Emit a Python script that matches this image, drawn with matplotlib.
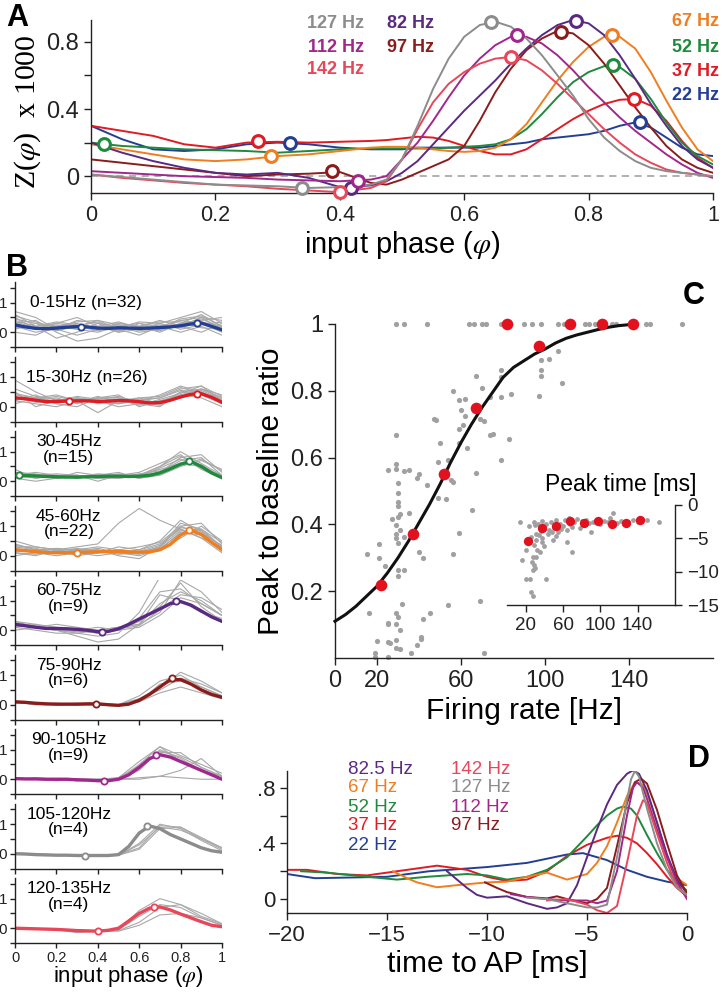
import numpy as np
import matplotlib.pyplot as plt
from matplotlib.ticker import FixedLocator

plt.rcParams['font.family'] = ['Liberation Sans', 'DejaVu Sans']
plt.rcParams['mathtext.fontset'] = 'stix'
plt.rcParams['axes.linewidth'] = 1.0
plt.rcParams['axes.edgecolor'] = '#222222'

W, H = 722, 992

# colours per frequency
C22, C37, C52, C67 = '#233f95', '#e01b24', '#1f8a3c', '#f07d1e'
C82, C97, C112, C127, C142 = '#5a2a82', '#8b1c1c', '#a0288c', '#8c8c8c', '#e8475a'

# ---------------- panel A data: Z(phase) x 1000 ----------------
phase = [0, .05, .1, .15, .2, .25, .3, .35, .4, .45, .475, .5, .525, .55, .575, .6,
         .625, .65, .675, .7, .725, .75, .775, .8, .825, .85, .875, .9, .925, .95, .975, 1.0]
z22 = [0.3, 0.22, 0.16, 0.15, 0.16, 0.19, 0.2, 0.19, 0.17, 0.16, 0.16, 0.16, 0.17, 0.17, 0.17, 0.17,
       0.17, 0.18, 0.19, 0.2, 0.22, 0.23, 0.24, 0.25, 0.27, 0.3, 0.32, 0.29, 0.23, 0.17, 0.13, 0.12]
z37 = [0.3, 0.27, 0.24, 0.19, 0.17, 0.2, 0.205, 0.2, 0.205, 0.21, 0.215, 0.225, 0.235, 0.23, 0.21, 0.18,
       0.15, 0.13, 0.13, 0.16, 0.22, 0.28, 0.34, 0.39, 0.43, 0.455, 0.46, 0.42, 0.33, 0.21, 0.11, 0.05]
z52 = [0.2, 0.18, 0.17, 0.16, 0.155, 0.15, 0.14, 0.15, 0.16, 0.165, 0.165, 0.165, 0.165, 0.165, 0.17, 0.175,
       0.18, 0.19, 0.22, 0.28, 0.37, 0.47, 0.56, 0.62, 0.655, 0.65, 0.58, 0.46, 0.32, 0.2, 0.12, 0.07]
z67 = [0.19, 0.16, 0.13, 0.1, 0.09, 0.1, 0.12, 0.13, 0.15, 0.17, 0.175, 0.175, 0.17, 0.16, 0.15, 0.145,
       0.15, 0.17, 0.22, 0.31, 0.44, 0.57, 0.68, 0.77, 0.83, 0.83, 0.76, 0.62, 0.45, 0.29, 0.16, 0.09]
z82 = [0.2, 0.14, 0.09, 0.05, 0.02, 0.01, 0.02, -0.01, -0.065, -0.055, -0.03, 0.02, 0.09, 0.19, 0.29, 0.39,
       0.48, 0.57, 0.67, 0.76, 0.84, 0.9, 0.93, 0.91, 0.84, 0.72, 0.58, 0.43, 0.3, 0.18, 0.1, 0.05]
z97 = [0.1, 0.08, 0.06, 0.04, 0.02, 0.0, 0.01, 0.015, 0.025, -0.04, -0.05, -0.02, 0.02, 0.06, 0.1, 0.18,
       0.33, 0.5, 0.64, 0.75, 0.82, 0.865, 0.85, 0.78, 0.67, 0.54, 0.41, 0.29, 0.18, 0.1, 0.05, 0.02]
z112 = [0.03, 0.02, 0.01, 0.0, -0.005, -0.01, -0.02, -0.025, -0.03, -0.02, 0.0, 0.1, 0.2, 0.33, 0.47, 0.6,
        0.7, 0.78, 0.83, 0.83, 0.79, 0.72, 0.63, 0.53, 0.44, 0.35, 0.27, 0.2, 0.13, 0.07, 0.02, -0.01]
z127 = [0.01, -0.005, -0.02, -0.035, -0.05, -0.055, -0.06, -0.07, -0.065, -0.05, -0.02, 0.1, 0.3, 0.52, 0.7, 0.83,
        0.9, 0.92, 0.89, 0.82, 0.72, 0.6, 0.48, 0.34, 0.23, 0.15, 0.09, 0.05, 0.03, 0.02, 0.01, 0.0]
z142 = [0.01, -0.01, -0.025, -0.04, -0.05, -0.06, -0.075, -0.085, -0.095, -0.07, -0.03, 0.1, 0.28, 0.44, 0.55, 0.62,
        0.67, 0.7, 0.71, 0.69, 0.63, 0.55, 0.46, 0.37, 0.28, 0.2, 0.13, 0.08, 0.04, 0.02, 0.01, 0.0]
# (min phase, min z, peak phase, peak z)
marks22 = (0.32, 0.20, 0.883, 0.32)
marks37 = (0.268, 0.21, 0.873, 0.46)
marks52 = (0.021, 0.19, 0.84, 0.66)
marks67 = (0.29, 0.12, 0.838, 0.84)
marks82 = (0.418, -0.07, 0.78, 0.925)
marks97 = (0.388, 0.03, 0.755, 0.86)
marks112 = (0.43, -0.03, 0.685, 0.84)
marks127 = (0.34, -0.07, 0.643, 0.92)
marks142 = (0.40, -0.095, 0.675, 0.71)

# ---------------- panel B data ----------------
phase_b = [0, .05, .1, .15, .2, .25, .3, .35, .4, .45, .5, .55, .6, .65, .7, .75, .8, .85, .9, .95, 1.0]
phase_g = [0, .1, .2, .3, .4, .5, .6, .7, .8, .9, 1.0]
bin_labels = ['0-15Hz (n=32)', '15-30Hz (n=26)', '30-45Hz\n(n=15)', '45-60Hz\n(n=22)', '60-75Hz\n(n=9)',
              '75-90Hz\n(n=6)', '90-105Hz\n(n=9)', '105-120Hz\n(n=4)', '120-135Hz\n(n=4)']
bin_colors = [C22, C37, C52, C67, C82, C97, C112, C127, C142]
mean_b = [
    [0.25, 0.18, 0.13, 0.12, 0.14, 0.17, 0.19, 0.18, 0.14, 0.13, 0.15, 0.14, 0.13, 0.14, 0.16, 0.18, 0.22, 0.28, 0.31, 0.2, 0.08],
    [0.3, 0.27, 0.22, 0.17, 0.18, 0.19, 0.2, 0.2, 0.18, 0.19, 0.21, 0.2, 0.17, 0.13, 0.14, 0.22, 0.33, 0.42, 0.44, 0.32, 0.15],
    [0.2, 0.19, 0.18, 0.16, 0.15, 0.14, 0.14, 0.15, 0.16, 0.17, 0.17, 0.16, 0.17, 0.2, 0.28, 0.42, 0.58, 0.67, 0.5, 0.28, 0.12],
    [0.2, 0.17, 0.14, 0.11, 0.1, 0.1, 0.1, 0.12, 0.13, 0.14, 0.14, 0.13, 0.12, 0.13, 0.2, 0.38, 0.7, 0.87, 0.72, 0.45, 0.2],
    [0.2, 0.15, 0.1, 0.06, 0.06, 0.05, 0.03, 0.0, -0.05, -0.04, 0.05, 0.2, 0.38, 0.55, 0.72, 0.9, 0.97, 0.85, 0.65, 0.45, 0.3],
    [0.1, 0.08, 0.05, 0.03, 0.02, 0.02, 0.02, 0.03, 0.03, 0.0, -0.02, 0.02, 0.15, 0.35, 0.6, 0.85, 0.85, 0.7, 0.5, 0.35, 0.25],
    [0.02, 0.01, 0.01, 0.0, 0.0, 0.0, -0.02, -0.03, -0.05, -0.05, 0.0, 0.15, 0.4, 0.7, 0.83, 0.75, 0.6, 0.45, 0.3, 0.15, 0.0],
    [0.0, -0.01, -0.03, -0.04, -0.05, -0.05, -0.06, -0.06, -0.06, -0.06, -0.03, 0.25, 0.7, 0.94, 0.85, 0.65, 0.5, 0.35, 0.2, 0.1, 0.05],
    [0.0, -0.01, -0.02, -0.03, -0.04, -0.06, -0.08, -0.09, -0.1, -0.07, 0.0, 0.25, 0.5, 0.68, 0.72, 0.62, 0.48, 0.35, 0.22, 0.1, 0.05],
]
marks_b = [(0.32, 0.19, 0.88, 0.31), (0.26, 0.19, 0.88, 0.44), (0.02, 0.2, 0.84, 0.67),
           (0.3, 0.1, 0.84, 0.88), (0.42, -0.06, 0.78, 0.98), (0.39, 0.03, 0.76, 0.89),
           (0.43, -0.06, 0.68, 0.83), (0.34, -0.06, 0.64, 0.94), (0.4, -0.1, 0.67, 0.72)]
cells_b = [
    [[0.7, 0.5, 0.1, -0.1, 0.1, 0.3, 0.2, 0.1, 0.3, 0.6, 0.2],
     [0.4, 0.2, 0.3, 0.5, 0.2, 0.0, 0.1, 0.3, 0.5, 0.7, 0.3],
     [0.0, -0.1, 0.2, 0.1, 0.0, 0.2, 0.3, 0.2, 0.0, 0.2, -0.1],
     [0.3, 0.4, 0.0, -0.3, -0.2, 0.1, 0.2, 0.0, 0.3, 0.4, 0.5],
     [0.5, 0.1, 0.3, 0.2, 0.4, 0.1, -0.1, 0.2, 0.4, 0.3, 0.0],
     [0.1, 0.3, 0.2, 0.3, 0.1, 0.3, 0.2, 0.4, 0.2, 0.5, 0.4],
     [0.6, 0.2, -0.2, 0.0, 0.3, 0.2, 0.0, 0.1, 0.4, 0.5, 0.1],
     [0.2, 0.0, 0.1, 0.4, 0.3, 0.0, 0.3, 0.1, 0.2, 0.0, 0.3],
     [0.35, 0.15, 0.25, 0.1, 0.2, 0.35, 0.15, 0.25, 0.15, 0.35, 0.2],
     [0.45, 0.3, 0.05, 0.2, 0.35, 0.05, 0.2, 0.35, 0.35, 0.15, 0.1],
     [0.15, 0.2, 0.35, 0.25, 0.15, 0.25, 0.05, 0.15, 0.45, 0.55, 0.2],
     [0.55, 0.35, 0.15, 0.2, 0.05, 0.15, 0.35, 0.3, 0.1, 0.25, 0.35],
     [0.25, 0.1, 0.2, 0.35, 0.4, 0.25, 0.1, 0.05, 0.25, 0.45, 0.15]],
    [[0.9, 0.5, 0.2, 0.3, 0.2, 0.0, 0.1, 0.2, 0.4, 0.6, 0.3],
     [0.4, 0.3, 0.4, 0.2, 0.3, 0.3, 0.2, 0.3, 0.6, 0.7, 0.2],
     [0.2, 0.1, 0.0, 0.2, -0.2, 0.2, 0.1, 0.0, 0.5, 0.4, 0.1],
     [0.3, 0.2, 0.3, 0.1, 0.3, 0.4, 0.0, 0.2, 0.3, 0.6, 0.4],
     [0.1, 0.3, 0.1, 0.3, 0.1, 0.2, 0.3, 0.1, 0.4, 0.3, 0.0],
     [0.5, 0.0, 0.2, 0.3, 0.2, 0.1, 0.2, 0.4, 0.7, 0.5, 0.2],
     [0.2, 0.4, 0.1, 0.0, 0.3, 0.3, 0.1, 0.1, 0.5, 0.6, 0.3],
     [0.6, 0.35, 0.25, 0.15, 0.35, 0.15, 0.25, 0.3, 0.55, 0.5, 0.15],
     [0.35, 0.15, 0.2, 0.35, 0.25, 0.35, 0.15, 0.05, 0.35, 0.55, 0.25],
     [0.25, 0.25, 0.35, 0.2, 0.15, 0.1, 0.3, 0.35, 0.65, 0.45, 0.1],
     [0.45, 0.3, 0.15, 0.25, 0.2, 0.25, 0.05, 0.25, 0.45, 0.7, 0.35]],
    [[0.3, 0.2, 0.1, 0.2, 0.1, 0.2, 0.2, 0.5, 1.0, 0.6, 0.2],
     [0.2, 0.1, 0.2, 0.1, 0.2, 0.2, 0.1, 0.3, 0.8, 0.9, 0.3],
     [0.1, 0.2, 0.1, 0.3, 0.2, 0.1, 0.2, 0.4, 0.6, 0.5, 0.1],
     [0.4, 0.1, 0.2, 0.2, 0.0, 0.2, 0.3, 0.6, 0.9, 0.4, 0.1],
     [0.2, 0.3, 0.2, 0.1, 0.2, 0.3, 0.1, 0.2, 0.5, 0.7, 0.4],
     [0.1, 0.0, 0.1, 0.2, 0.1, 0.1, 0.2, 0.3, 0.7, 0.8, 0.2],
     [0.25, 0.15, 0.15, 0.15, 0.15, 0.25, 0.15, 0.45, 0.75, 0.55, 0.15],
     [0.15, 0.2, 0.25, 0.2, 0.1, 0.15, 0.25, 0.35, 0.55, 0.75, 0.35],
     [0.3, 0.25, 0.1, 0.15, 0.25, 0.2, 0.2, 0.5, 0.85, 0.45, 0.2]],
    [[0.5, 0.3, 0.2, 0.3, 0.4, 1.1, 1.6, 1.2, 0.9, 0.6, 0.3],
     [0.3, 0.2, 0.1, 0.2, 0.1, 0.2, 0.1, 0.3, 1.0, 1.1, 0.4],
     [0.1, 0.0, 0.2, 0.1, 0.2, 0.1, 0.0, 0.2, 0.8, 0.7, 0.2],
     [0.4, 0.2, 0.2, 0.0, 0.1, 0.3, 0.2, 0.5, 1.2, 0.8, 0.3],
     [0.2, 0.1, 0.1, 0.2, 0.3, 0.2, 0.1, 0.2, 0.6, 1.0, 0.5],
     [0.0, 0.1, 0.0, 0.1, 0.0, 0.1, 0.2, 0.4, 0.9, 0.6, 0.1],
     [0.3, 0.3, 0.2, 0.2, 0.2, 0.0, -0.1, 0.3, 1.1, 0.9, 0.3],
     [0.25, 0.15, 0.15, 0.1, 0.15, 0.15, 0.15, 0.35, 0.95, 0.85, 0.3],
     [0.35, 0.25, 0.1, 0.15, 0.25, 0.1, 0.05, 0.25, 0.75, 0.9, 0.45],
     [0.15, 0.2, 0.25, 0.2, 0.1, 0.2, 0.3, 0.45, 1.0, 0.7, 0.25],
     [0.1, 0.05, 0.15, 0.25, 0.15, 0.05, 0.1, 0.3, 0.85, 0.75, 0.35]],
    [[0.3, 0.1, 0.0, -0.1, -0.2, -0.1, 0.6, 1.8, 2.5, 2.5, 2.5],
     [0.1, 0.2, 0.1, 0.0, -0.1, 0.0, 0.3, 0.8, 1.6, 0.8, 0.3],
     [0.2, 0.1, 0.0, -0.2, -0.4, -0.3, 0.2, 0.9, 1.3, 1.0, 0.5],
     [0.0, 0.1, 0.2, 0.1, 0.0, 0.1, 0.2, 1.2, 1.0, 0.6, 0.4],
     [0.3, 0.2, 0.0, 0.0, 0.1, 0.0, 0.1, 0.5, 1.1, 0.9, 0.5],
     [0.1, 0.0, -0.1, -0.1, 0.0, 0.1, 0.2, 0.6, 1.7, 1.3, 0.6],
     [0.25, 0.15, 0.05, 0.0, -0.1, 0.0, 0.4, 1.3, 1.4, 0.9, 0.5],
     [0.15, 0.1, 0.0, -0.05, -0.05, 0.05, 0.15, 0.7, 1.2, 1.1, 0.7]],
    [[0.1, 0.05, 0.0, 0.0, 0.0, 0.0, 0.2, 0.6, 1.1, 0.8, 0.4],
     [0.1, 0.0, 0.0, 0.05, 0.0, -0.05, 0.1, 0.7, 0.8, 0.6, 0.3],
     [0.05, 0.05, 0.0, 0.0, 0.05, 0.0, 0.3, 0.8, 1.0, 0.6, 0.3],
     [0.1, 0.0, 0.05, 0.0, 0.0, 0.0, 0.1, 0.4, 0.6, 0.4, 0.2],
     [0.1, 0.05, 0.0, 0.0, 0.0, 0.0, 0.2, 0.5, 0.9, 0.7, 0.4]],
    [[0.0, 0.0, 0.0, 0.0, -0.05, 0.0, 0.5, 1.1, 0.8, 0.5, 0.2],
     [0.05, 0.0, 0.0, -0.05, -0.05, 0.0, 0.4, 0.9, 0.9, 0.4, 0.1],
     [0.0, 0.0, -0.05, 0.0, 0.0, 0.0, 0.0, 0.1, 0.3, 0.7, 0.1],
     [0.0, 0.05, 0.0, 0.0, -0.05, 0.0, 0.3, 1.0, 0.7, 0.3, 0.0],
     [0.0, 0.0, 0.0, -0.05, 0.0, 0.0, 0.05, 0.1, 0.05, 0.0, 0.0],
     [0.05, 0.0, 0.0, 0.0, 0.0, 0.05, 0.6, 1.1, 0.6, 0.3, 0.1],
     [0.0, 0.0, 0.0, 0.0, -0.05, 0.05, 0.45, 0.95, 0.75, 0.4, 0.1]],
    [[0.0, -0.02, -0.05, -0.05, -0.06, -0.05, 0.3, 0.9, 0.8, 0.5, 0.15],
     [0.0, -0.03, -0.04, -0.06, -0.07, -0.04, 0.2, 0.95, 0.9, 0.55, 0.2],
     [0.02, -0.01, -0.03, -0.05, -0.06, -0.06, 0.35, 1.0, 0.85, 0.45, 0.1],
     [0.0, -0.02, -0.04, -0.05, -0.05, -0.05, 0.15, 0.85, 0.9, 0.5, 0.2]],
    [[0.0, -0.02, -0.05, -0.1, -0.1, -0.05, 0.6, 1.0, 0.8, 0.4, 0.15],
     [0.0, -0.01, -0.05, -0.15, -0.1, -0.05, 0.4, 0.8, 0.7, 0.35, 0.1],
     [0.0, -0.02, -0.05, -0.08, -0.1, -0.1, 0.1, 0.45, 0.5, 0.35, 0.1],
     [0.0, -0.01, -0.03, -0.05, -0.1, -0.08, 0.2, 0.7, 0.8, 0.5, 0.15]],
]

# ---------------- panel C data ----------------
rate_top = [29, 33, 44, 64, 66, 70, 72, 79, 90, 94, 98, 106, 109, 110, 119, 121, 124, 132, 134, 148, 150, 165]
rate_cells = [106, 102, 98, 98, 98, 108, 97, 79, 79, 67, 70, 84, 79, 74, 56, 59, 62, 47, 48, 60, 62, 69, 71, 61, 59,
              74, 75, 83, 50, 59, 63, 49, 79, 54, 29, 29, 29, 33, 35, 25, 40, 39, 30, 55, 56, 67, 44, 30, 30, 30,
              31, 30, 35, 27, 29, 31, 49, 53, 65, 59, 29, 29, 33, 30, 40, 42, 21, 15, 21, 24, 56, 30, 33, 30,
              16, 32, 54, 69, 29, 30, 25, 25, 29, 31, 42, 45, 41, 41, 39, 20, 25, 26, 29, 31, 36, 19, 19, 25, 71, 29]
ratio_cells = [0.918, 0.895, 0.891, 0.863, 0.845, 0.823, 0.785, 0.861, 0.841, 0.843, 0.808, 0.79, 0.781, 0.78, 0.8,
               0.773, 0.775, 0.715, 0.714, 0.743, 0.726, 0.715, 0.711, 0.698, 0.685, 0.669, 0.671, 0.655, 0.643,
               0.643, 0.628, 0.588, 0.593, 0.593, 0.668, 0.581, 0.567, 0.559, 0.563, 0.563, 0.55, 0.538, 0.524,
               0.532, 0.527, 0.555, 0.518, 0.493, 0.468, 0.455, 0.432, 0.422, 0.434, 0.415, 0.398, 0.384, 0.48,
               0.476, 0.443, 0.375, 0.37, 0.36, 0.363, 0.343, 0.318, 0.3, 0.34, 0.31, 0.3, 0.275, 0.312, 0.262,
               0.263, 0.246, 0.134, 0.163, 0.158, 0.17, 0.136, 0.124, 0.106, 0.101, 0.101, 0.083, 0.116, 0.134,
               0.064, 0.056, 0.039, 0.051, 0.047, 0.044, 0.031, 0.027, 0.014, 0.014, 0.004, 0.004, 0.014, 0.053]
rate_mean = [22, 37, 52, 67, 82, 97, 112, 127, 142]
ratio_mean = [0.22, 0.37, 0.55, 0.75, 1.0, 0.935, 1.0, 1.0, 1.0]
fit_rate = [0, 5, 10, 15, 20, 25, 30, 35, 40, 45, 50, 55, 60, 65, 70, 75, 80, 85, 90, 95, 100, 105, 110, 115,
            120, 125, 130, 135, 140]
fit_ratio = [0.11, 0.13, 0.155, 0.185, 0.215, 0.255, 0.3, 0.35, 0.405, 0.46, 0.52, 0.585, 0.645, 0.7, 0.75, 0.795,
             0.84, 0.87, 0.89, 0.91, 0.925, 0.943, 0.957, 0.967, 0.975, 0.983, 0.99, 0.995, 0.998]

# inset: peak time [ms]
pt_rate = [14, 163, 114, 70, 64, 49, 42, 20, 25, 16, 26, 28, 29, 30, 28, 28, 31, 20, 29, 31, 26, 31, 29, 24, 37, 38,
           40, 30, 33, 35, 38, 40, 42, 45, 47, 50, 52, 55, 57, 60, 62, 64, 66, 68, 70, 72, 75, 78, 80, 82, 85, 88,
           90, 92, 95, 100, 104, 108, 110, 115, 118, 122, 125, 130, 135, 140, 145, 150, 34, 36, 44, 48, 53, 58,
           27, 32, 35]
pt_time = [-2.5, -2.5, -1.25, -7, -5.5, -5.3, -11.1, -11.1, -11.1, -8.2, -13, -13.6, -9, -9.5, -9.8, -7.8, -7.8,
           -6.8, -6, -5.3, -4.8, -4.3, -2.5, -3.2, -5, -5.5, -6.1, -3.0, -2.8, -3.3, -2.4, -3.6, -2.9, -3.8, -2.6,
           -3.4, -2.2, -4.0, -2.8, -3.1, -2.3, -3.7, -2.0, -2.9, -3.3, -2.5, -2.1, -3.5, -2.4, -3.0, -2.2, -2.7,
           -4.0, -2.5, -2.2, -2.9, -2.4, -2.6, -2.0, -3.0, -2.7, -2.4, -2.9, -2.5, -2.2, -2.6, -2.1, -2.3, -4.5,
           -3.9, -4.4, -4.0, -4.6, -3.6, -8.5, -6.8, -7.0]
pt_mean = [-5.35, -3.5, -3.15, -2.45, -2.65, -2.45, -2.8, -2.75, -2.3]

# ---------------- panel D data: time to AP ----------------
t22 = [-20, -18.6, -15, -12.9, -10, -8, -6, -5.2, -4, -3, -2, -1, 0]
d22 = [0.18, 0.15, 0.16, 0.2, 0.23, 0.26, 0.32, 0.33, 0.28, 0.21, 0.16, 0.125, 0.1]
t37 = [-20, -19, -17.5, -16, -15, -14, -13, -12.5, -12, -11, -10, -9, -8, -7, -6, -5, -4, -3.5, -3, -2.5,
       -2, -1.5, -1, -0.5, 0]
d37 = [0.21, 0.21, 0.18, 0.17, 0.19, 0.21, 0.23, 0.24, 0.23, 0.21, 0.16, 0.13, 0.14, 0.2, 0.31, 0.39, 0.44,
       0.455, 0.44, 0.4, 0.33, 0.25, 0.16, 0.08, 0.02]
t52 = [-19.3, -18, -16, -14.5, -13, -11, -10, -9, -8, -7, -6, -5, -4.5, -4, -3.5, -3.2, -2.8, -2.5, -2, -1.5,
       -1, -0.5, 0]
d52 = [0.2, 0.19, 0.16, 0.14, 0.16, 0.18, 0.17, 0.14, 0.16, 0.21, 0.3, 0.45, 0.53, 0.6, 0.65, 0.665, 0.65, 0.6,
       0.46, 0.33, 0.21, 0.12, 0.06]
t67 = [-14.7, -14, -13.5, -12.5, -11.5, -10, -9, -8, -7, -6, -5, -4.5, -4, -3.5, -3, -2.6, -2.2, -2, -1.5, -1,
       -0.5, 0]
d67 = [0.2, 0.15, 0.12, 0.085, 0.1, 0.12, 0.125, 0.16, 0.19, 0.14, 0.18, 0.26, 0.38, 0.55, 0.74, 0.84, 0.82,
       0.76, 0.55, 0.3, 0.15, 0.1]
t82 = [-12, -11.5, -11, -10.5, -10, -9, -8, -7, -6.5, -6, -5.5, -5, -4.5, -4, -3.5, -3, -2.7, -2.4, -2, -1.5,
       -1, -0.5, 0]
d82 = [0.2, 0.14, 0.08, 0.03, 0.01, 0.02, -0.03, -0.07, -0.06, -0.03, 0.1, 0.3, 0.5, 0.68, 0.82, 0.9, 0.925,
       0.9, 0.78, 0.55, 0.32, 0.14, 0.04]
t97 = [-10.1, -9.5, -9, -8, -7, -6.5, -6, -5, -4.5, -4, -3.5, -3, -2.6, -2.3, -2, -1.5, -1, -0.5, 0]
d97 = [0.12, 0.08, 0.05, 0.015, 0.005, 0.02, 0.0, -0.03, 0.0, 0.08, 0.38, 0.69, 0.84, 0.865, 0.83, 0.64, 0.4,
       0.17, 0.04]
t112 = [-8.8, -8, -7, -6, -5, -4.5, -4, -3.5, -3, -2.7, -2.5, -2.2, -2, -1.5, -1, -0.5, 0]
d112 = [0.035, 0.015, 0.0, -0.01, -0.01, -0.03, -0.01, 0.2, 0.6, 0.8, 0.84, 0.8, 0.72, 0.5, 0.3, 0.12, 0.0]
t127 = [-8, -7, -6, -5, -4.5, -4, -3.5, -3, -2.8, -2.6, -2.4, -2, -1.5, -1, -0.5, 0]
d127 = [0.01, 0.0, -0.03, -0.06, -0.06, -0.04, 0.3, 0.71, 0.86, 0.92, 0.88, 0.65, 0.4, 0.21, 0.08, 0.03]
t142 = [-7, -6, -5, -4.5, -4, -3.5, -3, -2.5, -2.2, -2, -1.5, -1, -0.5, 0]
d142 = [-0.01, 0.0, -0.04, -0.08, -0.1, -0.05, 0.26, 0.6, 0.71, 0.69, 0.47, 0.26, 0.09, 0.03]


def box(l, t, r, b):
    return [l / W, 1 - b / H, (r - l) / W, (b - t) / H]


def fig_xy(x, y):
    return x / W, 1 - y / H


def clean(ax):
    ax.spines['top'].set_visible(False)
    ax.spines['right'].set_visible(False)
    ax.tick_params(direction='out', width=1, colors='#222222')


fig = plt.figure(figsize=(W / 100, H / 100), dpi=100)

# ================= A =================
axA = fig.add_axes(box(91, 20, 713, 193))
clean(axA)
axA.axhline(0, color='#aaaaaa', lw=1.3, ls=(0, (4, 3)), zorder=0)
curvesA = [(z22, C22, marks22), (z37, C37, marks37), (z52, C52, marks52), (z67, C67, marks67),
           (z97, C97, marks97), (z82, C82, marks82), (z112, C112, marks112), (z142, C142, marks142),
           (z127, C127, marks127)]
for z, c, m in curvesA:
    axA.plot(phase, z, color=c, lw=1.4)
for z, c, m in curvesA:
    axA.plot([m[0], m[2]], [m[1], m[3]], ls='none', marker='o', ms=8.5, mfc='white', mec=c, mew=2.2,
             clip_on=False, zorder=5)
axA.set_xlim(0, 1)
axA.set_ylim(-0.1, 0.93)
axA.set_xticks([0, 0.2, 0.4, 0.6, 0.8, 1])
axA.set_xticklabels(['0', '0.2', '0.4', '0.6', '0.8', '1'], fontsize=15.5)
axA.yaxis.set_major_locator(FixedLocator([0, 0.2, 0.4, 0.6, 0.8]))
axA.set_yticklabels(['0', '', '0.4', '', '0.8'], fontsize=17)
axA.tick_params(length=5)
axA.set_xlabel(r'input phase ($\varphi$)', fontsize=21, labelpad=2)
fig.text(*fig_xy(28, 112), r'Z($\varphi$)  x 1000', rotation=90, ha='center', va='center',
         fontsize=21.5, family='Liberation Serif')

legA = [('127 Hz', C127, 364, 24, 'right'), ('112 Hz', C112, 364, 47, 'right'), ('142 Hz', C142, 364, 70, 'right'),
        ('82 Hz', C82, 387, 23, 'left'), ('97 Hz', C97, 387, 47, 'left'),
        ('67 Hz', C67, 719, 22, 'right'), ('52 Hz', C52, 719, 47, 'right'), ('37 Hz', C37, 719, 71, 'right'),
        ('22 Hz', C22, 719, 96, 'right')]
for s, c, x, y, ha in legA:
    fig.text(*fig_xy(x, y), s, color=c, fontsize=13, fontweight='bold', ha=ha, va='center')

# ================= B =================
b_bottoms = [347, 421.5, 496, 570.5, 645, 719.5, 794, 868.5, 943]
for i in range(9):
    ax = fig.add_axes(box(15, b_bottoms[i] - 65, 222, b_bottoms[i]))
    clean(ax)
    for tr in cells_b[i]:
        ax.plot(phase_g, tr, color='#a8a8a8', lw=0.8)
    ax.plot(phase_b, mean_b[i], color=bin_colors[i], lw=2.4)
    m = marks_b[i]
    ax.plot([m[0], m[2]], [m[1], m[3]], ls='none', marker='o', ms=4.5, mfc='white', mec=bin_colors[i],
            mew=1.3, zorder=5)
    ax.set_xlim(0, 1)
    ax.set_ylim(-0.5, 1.7)
    ax.yaxis.set_major_locator(FixedLocator([-0.5, 0, 0.5, 1, 1.5]))
    ax.set_yticklabels(['', '0', '', '1', ''], fontsize=11)
    ax.set_xticks([0, 0.2, 0.4, 0.6, 0.8, 1])
    ax.tick_params(length=3.5, pad=2)
    if i < 8:
        ax.set_xticklabels([])
    else:
        ax.set_xticklabels(['0', '0.2', '0.4', '0.6', '0.8', '1'], fontsize=10.5)
        ax.set_xlabel(r'input phase ($\varphi$)', fontsize=16, labelpad=2)
        ax.xaxis.set_label_coords(0.545, -0.33)
    if '\n' in bin_labels[i]:
        ax.text(0.26, 1.07, bin_labels[i], ha='center', va='center', fontsize=12.5, linespacing=1.05)
    else:
        ax.text(0.345, 1.0, bin_labels[i], ha='center', va='center', fontsize=12.5)

# ================= C =================
axC = fig.add_axes(box(335, 324, 713, 658))
clean(axC)
axC.scatter(rate_top, [1.0] * len(rate_top), s=14, color='#a0a0a0', lw=0, clip_on=False, zorder=2)
axC.scatter(rate_cells, ratio_cells, s=14, color='#a0a0a0', lw=0, clip_on=False, zorder=2)
axC.plot(fit_rate, fit_ratio, color='#111111', lw=2.2, zorder=3, clip_on=False)
axC.scatter(rate_mean, ratio_mean, s=70, color='#e3101e', lw=0, clip_on=False, zorder=4)
axC.set_xlim(0, 180)
axC.set_ylim(0, 1)
axC.set_xticks([0, 20, 60, 100, 140])
axC.set_xticklabels(['0', '20', '60', '100', '140'], fontsize=17)
axC.set_yticks([0.2, 0.4, 0.6, 0.8, 1.0])
axC.set_yticklabels(['0.2', '0.4', '0.6', '0.8', '1'], fontsize=17)
axC.tick_params(length=5)
axC.set_xlabel('Firing rate [Hz]', fontsize=21.5, labelpad=4)
axC.set_ylabel('Peak to baseline ratio', fontsize=21.5, labelpad=4)

# inset
axI = fig.add_axes(box(507, 505, 675, 605))
axI.spines['top'].set_visible(False)
axI.spines['left'].set_visible(False)
axI.patch.set_alpha(0)
axI.yaxis.tick_right()
axI.tick_params(direction='out', width=1, length=5, colors='#222222')
axI.scatter(pt_rate, pt_time, s=12, color='#a0a0a0', lw=0, clip_on=False)
axI.scatter(rate_mean, pt_mean, s=45, color='#e3101e', lw=0, clip_on=False, zorder=4)
axI.set_xlim(0, 180)
axI.set_ylim(-15, 0)
axI.set_xticks([20, 60, 100, 140])
axI.set_xticklabels(['20', '60', '100', '140'], fontsize=13.5)
axI.set_yticks([0, -5, -10, -15])
axI.set_yticklabels(['0', '\u22125', '\u221210', '\u221215'], fontsize=13.5)
fig.text(*fig_xy(621, 485), 'Peak time [ms]', fontsize=16.5, ha='center', va='center')

# ================= D =================
axD = fig.add_axes(box(287, 771, 687, 913))
clean(axD)
curvesD = [(t22, d22, C22), (t37, d37, C37), (t52, d52, C52), (t67, d67, C67), (t82, d82, C82),
           (t97, d97, C97), (t112, d112, C112), (t142, d142, C142), (t127, d127, C127)]
for t, d, c in curvesD:
    axD.plot(t, d, color=c, lw=1.4)
axD.set_xlim(-20, 0)
axD.set_ylim(-0.1, 0.92)
axD.set_xticks([-20, -15, -10, -5, 0])
axD.set_xticklabels(['\u221220', '\u221215', '\u221210', '\u22125', '0'], fontsize=16)
axD.yaxis.set_major_locator(FixedLocator([0, 0.2, 0.4, 0.6, 0.8]))
axD.set_yticklabels(['0', '', '.4', '', '.8'], fontsize=16)
axD.tick_params(length=5)
axD.set_xlabel('time to AP [ms]', fontsize=21.5, labelpad=3)

legD = [('82.5 Hz', C82, 348, 769), ('67 Hz', C67, 348, 788), ('52 Hz', C52, 348, 807),
        ('37 Hz', C37, 348, 826), ('22 Hz', C22, 348, 846),
        ('142 Hz', C142, 451, 769), ('127 Hz', C127, 451, 788), ('112 Hz', C112, 451, 807),
        ('97 Hz', C97, 451, 826)]
for s, c, x, y in legD:
    fig.text(*fig_xy(x, y), s, color=c, fontsize=13.5, ha='left', va='center')

# panel letters
for s, x, y in [('A', 6, 18), ('B', 6, 268), ('C', 683, 296), ('D', 688, 759)]:
    fig.text(*fig_xy(x, y), s, fontsize=22, fontweight='bold', ha='left', va='center')

fig.savefig('out.png', dpi=100)
